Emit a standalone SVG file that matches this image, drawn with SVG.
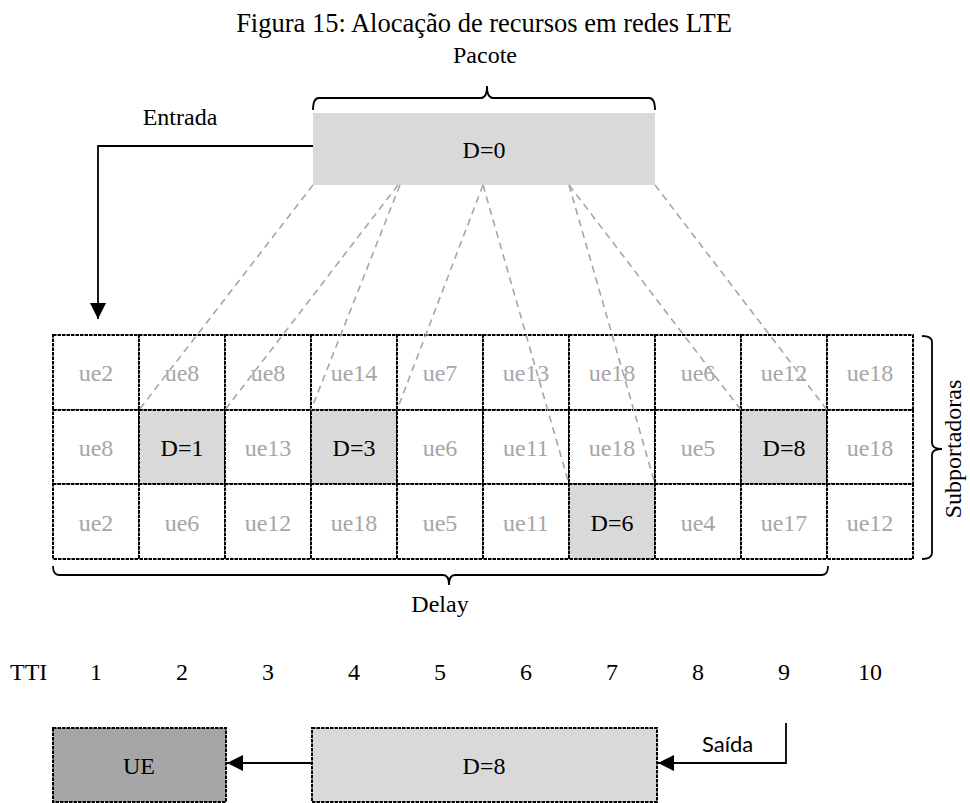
<svg xmlns="http://www.w3.org/2000/svg" width="970" height="803" viewBox="0 0 970 803">
  <style>
    text { font-family: "Liberation Serif", "Times New Roman", serif; font-size: 24px; fill: #000; }
    .title { font-size: 26.5px; }
    .ue { fill: #a6a6a6; text-anchor: middle; }
    .d { text-anchor: middle; }
    .mid { text-anchor: middle; }
    .sans { font-family: Lato, "Liberation Sans", sans-serif; font-size: 22px; }
    .cell { fill: #fff; stroke: #000; stroke-width: 2; stroke-dasharray: 3.5 1; }
    .cell.hl { fill: #d9d9d9; }
    .box { stroke: #000; stroke-width: 2; stroke-dasharray: 3.5 1; }
    .guide { fill: none; stroke: #a6a6a6; stroke-width: 1.6; stroke-dasharray: 7 5; }
    .wire { fill: none; stroke: #000; stroke-width: 1.8; }
    .brace { fill: none; stroke: #000; stroke-width: 1.8; }
  </style>
  <defs>
    <marker id="arrow" markerUnits="userSpaceOnUse" markerWidth="16" markerHeight="16" viewBox="0 0 16 16" refX="16" refY="8" orient="auto">
      <path d="M0,0 L16,8 L0,16 Z" fill="#000"/>
    </marker>
  </defs>

  <rect width="970" height="803" fill="#fff"/>

  <text class="title mid" x="484" y="32">Figura 15: Alocação de recursos em redes LTE</text>

  <!-- packet -->
  <g id="pacote">
    <text class="mid" x="485" y="63">Pacote</text>
    <path class="brace" d="M313,110 Q313,98 319,98 L481,98 Q487,98 487,86 Q487,98 493,98 L649,98 Q655,98 655,110"/>
    <rect x="313" y="113" width="342" height="72" fill="#d9d9d9"/>
    <text class="d" x="484" y="158">D=0</text>
  </g>

  <g id="entrada-label">
    <text class="mid" x="180" y="125">Entrada</text>
  </g>

  <!-- resource grid: 10 TTIs x 3 subcarriers -->
  <g id="grid">
    <g id="row1">
      <rect class="cell" x="53" y="335" width="86" height="75"/>
      <rect class="cell" x="139" y="335" width="86" height="75"/>
      <rect class="cell" x="225" y="335" width="86" height="75"/>
      <rect class="cell" x="311" y="335" width="86" height="75"/>
      <rect class="cell" x="397" y="335" width="86" height="75"/>
      <rect class="cell" x="483" y="335" width="86" height="75"/>
      <rect class="cell" x="569" y="335" width="86" height="75"/>
      <rect class="cell" x="655" y="335" width="86" height="75"/>
      <rect class="cell" x="741" y="335" width="86" height="75"/>
      <rect class="cell" x="827" y="335" width="86" height="75"/>
      <text class="ue" x="96" y="381">ue2</text>
      <text class="ue" x="182" y="381">ue8</text>
      <text class="ue" x="268" y="381">ue8</text>
      <text class="ue" x="354" y="381">ue14</text>
      <text class="ue" x="440" y="381">ue7</text>
      <text class="ue" x="526" y="381">ue13</text>
      <text class="ue" x="612" y="381">ue18</text>
      <text class="ue" x="698" y="381">ue6</text>
      <text class="ue" x="784" y="381">ue12</text>
      <text class="ue" x="870" y="381">ue18</text>
    </g>
    <g id="row2">
      <rect class="cell" x="53" y="410" width="86" height="74"/>
      <rect class="cell hl" x="139" y="410" width="86" height="74"/>
      <rect class="cell" x="225" y="410" width="86" height="74"/>
      <rect class="cell hl" x="311" y="410" width="86" height="74"/>
      <rect class="cell" x="397" y="410" width="86" height="74"/>
      <rect class="cell" x="483" y="410" width="86" height="74"/>
      <rect class="cell" x="569" y="410" width="86" height="74"/>
      <rect class="cell" x="655" y="410" width="86" height="74"/>
      <rect class="cell hl" x="741" y="410" width="86" height="74"/>
      <rect class="cell" x="827" y="410" width="86" height="74"/>
      <text class="ue" x="96" y="456">ue8</text>
      <text class="d" x="182" y="456">D=1</text>
      <text class="ue" x="268" y="456">ue13</text>
      <text class="d" x="354" y="456">D=3</text>
      <text class="ue" x="440" y="456">ue6</text>
      <text class="ue" x="526" y="456">ue11</text>
      <text class="ue" x="612" y="456">ue18</text>
      <text class="ue" x="698" y="456">ue5</text>
      <text class="d" x="784" y="456">D=8</text>
      <text class="ue" x="870" y="456">ue18</text>
    </g>
    <g id="row3">
      <rect class="cell" x="53" y="484" width="86" height="75"/>
      <rect class="cell" x="139" y="484" width="86" height="75"/>
      <rect class="cell" x="225" y="484" width="86" height="75"/>
      <rect class="cell" x="311" y="484" width="86" height="75"/>
      <rect class="cell" x="397" y="484" width="86" height="75"/>
      <rect class="cell" x="483" y="484" width="86" height="75"/>
      <rect class="cell hl" x="569" y="484" width="86" height="75"/>
      <rect class="cell" x="655" y="484" width="86" height="75"/>
      <rect class="cell" x="741" y="484" width="86" height="75"/>
      <rect class="cell" x="827" y="484" width="86" height="75"/>
      <text class="ue" x="96" y="531">ue2</text>
      <text class="ue" x="182" y="531">ue6</text>
      <text class="ue" x="268" y="531">ue12</text>
      <text class="ue" x="354" y="531">ue18</text>
      <text class="ue" x="440" y="531">ue5</text>
      <text class="ue" x="526" y="531">ue11</text>
      <text class="d" x="612" y="531">D=6</text>
      <text class="ue" x="698" y="531">ue4</text>
      <text class="ue" x="784" y="531">ue17</text>
      <text class="ue" x="870" y="531">ue12</text>
    </g>
  </g>

  <!-- grid braces -->
  <g id="subportadoras">
    <path class="brace" d="M922,336 Q932,336 932,342 L932,443 Q932,449 942,449 Q932,449 932,455 L932,553 Q932,559 922,559"/>
    <text class="mid" x="961" y="449" transform="rotate(-90 961 449)">Subportadoras</text>
  </g>
  <g id="delay">
    <path class="brace" d="M53,566 Q53,575 59,575 L443,575 Q449,575 449,585 Q449,575 455,575 L822,575 Q828,575 828,566"/>
    <text class="mid" x="440" y="612">Delay</text>
  </g>

  <!-- TTI axis -->
  <g id="tti">
    <text x="10" y="680">TTI</text>
    <text class="mid" x="96" y="680">1</text>
    <text class="mid" x="182" y="680">2</text>
    <text class="mid" x="268" y="680">3</text>
    <text class="mid" x="354" y="680">4</text>
    <text class="mid" x="440" y="680">5</text>
    <text class="mid" x="526" y="680">6</text>
    <text class="mid" x="612" y="680">7</text>
    <text class="mid" x="698" y="680">8</text>
    <text class="mid" x="784" y="680">9</text>
    <text class="mid" x="870" y="680">10</text>
  </g>

  <!-- output stage -->
  <g id="ue">
    <rect class="box" x="53" y="728" width="173" height="74" fill="#a6a6a6"/>
    <text class="mid" x="139" y="774">UE</text>
  </g>
  <g id="saida-pacote">
    <rect class="box" x="312" y="728" width="345" height="74" fill="#d9d9d9"/>
    <text class="mid" x="484" y="774">D=8</text>
  </g>
  <g id="saida-label">
    <text class="sans" x="702" y="752">Saída</text>
  </g>

  <!-- connectors -->
  <g id="connectors">
    <g id="mapping">
      <line class="guide" x1="313" y1="185" x2="139" y2="410"/>
      <line class="guide" x1="398" y1="185" x2="225" y2="410"/>
      <line class="guide" x1="400" y1="185" x2="311" y2="410"/>
      <line class="guide" x1="483" y1="185" x2="397" y2="410"/>
      <line class="guide" x1="483" y1="185" x2="569" y2="484"/>
      <line class="guide" x1="569" y1="185" x2="655" y2="484"/>
      <line class="guide" x1="569" y1="185" x2="741" y2="410"/>
      <line class="guide" x1="655" y1="185" x2="827" y2="410"/>
    </g>
    <path class="wire" d="M313,146 L98,146 L98,319" marker-end="url(#arrow)"/>
    <path class="wire" d="M786,723 L786,763 L658,763" marker-end="url(#arrow)"/>
    <path class="wire" d="M312,763 L227,763" marker-end="url(#arrow)"/>
  </g>
</svg>
